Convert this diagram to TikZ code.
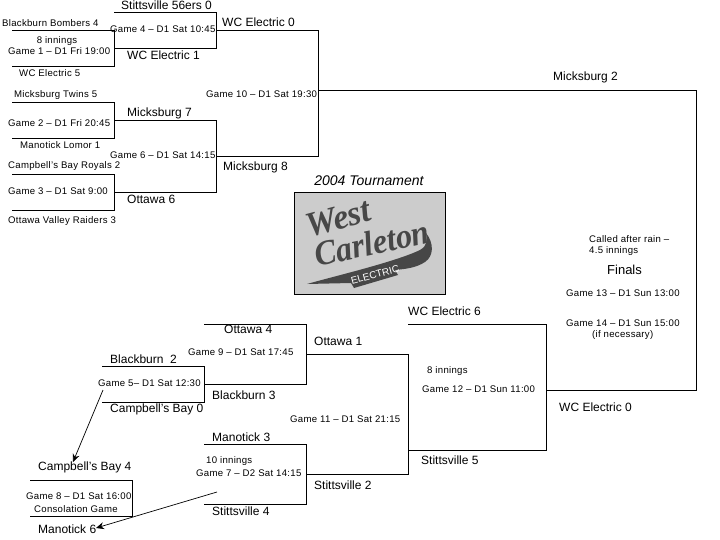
\documentclass[tikz,border=0pt]{standalone}
\usepackage{fontspec}
\setmainfont{Liberation Sans}
\newfontfamily\logofont{Liberation Serif}
\usetikzlibrary{arrows.meta, positioning}
\tikzset{
  bigteam/.style={anchor=west,inner sep=0pt,font=\fontsize{12}{12}\selectfont},
  smallteam/.style={anchor=west,inner sep=0pt,font=\fontsize{9.6}{10}\selectfont\addfontfeature{LetterSpace=3}},
  gamelbl/.style={smallteam},
  bracket/.style={line width=0.9pt},
  moved/.style={-{Stealth[length=8pt,width=7pt]},line width=0.7pt},
  logotext/.style={font=\logofont\bfseries\itshape\fontsize{35}{35}\selectfont,text=black!72,inner sep=0pt}
}
\begin{document}
\begin{tikzpicture}[x=1pt,y=-1pt]
\useasboundingbox (0,0) rectangle (720,540);
% upper half of the draw
\draw [bracket](12,30) -- (114,30) -- (114,66) -- (12,66);
\draw [bracket](12,102) -- (114,102) -- (114,138) -- (12,138);
\draw [bracket](12,174) -- (114,174) -- (114,210) -- (12,210);
\draw [bracket](114,12) -- (216,12) -- (216,48) -- (114,48);
\draw [bracket](114,120) -- (216,120) -- (216,192) -- (114,192);
\draw [bracket](216,30) -- (318,30) -- (318,156) -- (216,156);
% finals
\draw [bracket](318,90) -- (696,90) -- (696,390) -- (546,390);
\draw [bracket](408,324) -- (546,324) -- (546,450) -- (408,450);
% lower half of the draw
\draw [bracket](102,366) -- (204,366) -- (204,402) -- (102,402);
\draw [bracket](204,324) -- (306,324) -- (306,384) -- (204,384);
\draw [bracket](204,444) -- (306,444) -- (306,504) -- (204,504);
\draw [bracket](306,354) -- (408,354) -- (408,474) -- (306,474);
\draw [bracket](30,480) -- (132,480) -- (132,516) -- (30,516);

\node[smallteam] (bombers) at (2,23) {Blackburn Bombers 4};
\node[smallteam,anchor=center] (inningsA) at (57,41) {8 innings};
\node[gamelbl] (gameA) at (8,51) {Game 1 – D1 Fri 19:00};
\node[smallteam] (electricE) at (19,73) {WC Electric 5};
\node[smallteam] (twins) at (14,95) {Micksburg Twins 5};
\node[gamelbl] (gameB) at (8,123) {Game 2 – D1 Fri 20:45};
\node[smallteam] (lomor) at (20,145) {Manotick Lomor 1};
\node[smallteam] (royals) at (8,166) {Campbell's Bay Royals 2};
\node[gamelbl] (gameC) at (8,191) {Game 3 – D1 Sat 9:00};
\node[smallteam] (raiders) at (8,221) {Ottawa Valley Raiders 3};

\node[bigteam] (fiftysix) at (121,5) {Stittsville 56ers 0};
\node[gamelbl] (gameD) at (110,29) {Game 4 – D1 Sat 10:45};
\node[bigteam] (electricA) at (127,55) {WC Electric 1};
\node[bigteam] (electricB) at (222,22) {WC Electric 0};
\node[bigteam] (micksA) at (127,113) {Micksburg 7};
\node[gamelbl] (gameF) at (110,155) {Game 6 – D1 Sat 14:15};
\node[bigteam] (ottawaA) at (127,199) {Ottawa 6};
\node[gamelbl] (gameJ) at (206,94) {Game 10 – D1 Sat 19:30};
\node[bigteam] (micksB) at (223,167) {Micksburg 8};
\node[bigteam] (micksC) at (553,77) {Micksburg 2};

% logo
\node[font=\itshape\fontsize{14}{14}\selectfont,inner sep=0pt] (title) at (369,181) {2004 Tournament};
\draw[fill=black!20,line width=0.7pt] (294,192) rectangle (445,294);
\fill[black!72] (307,284) .. controls (335,276) and (395,262) .. (420,250)
  .. controls (427,246) and (428,240) .. (426,233)
  .. controls (434,243) and (434,256) .. (425,262)
  .. controls (416,268) and (405,269) .. (395,270)
  -- (398,275) -- (354,288) -- (351,283) -- cycle;
\node[logotext,rotate=15,xscale=0.98] (west) at (338,218) {West};
\node[logotext,rotate=12,xscale=0.92] (carleton) at (372,243) {Carleton};
\node[text=white,rotate=15,inner sep=0pt,font=\fontsize{10}{10}\selectfont] (electric) at (375,275) {ELECTRIC};

\node[smallteam] (called) at (589,239) {Called after rain –};
\node[smallteam] (rainin) at (589,251) {4.5 innings};
\node[bigteam,font=\fontsize{13}{13}\selectfont] (finals) at (607,270) {Finals};
\node[gamelbl] (gameM) at (566,293) {Game 13 – D1 Sun 13:00};
\node[gamelbl] (gameN) at (566,323) {Game 14 – D1 Sun 15:00};
\node[smallteam] (ifnec) at (592,335) {(if necessary)};

\node[bigteam] (electricC) at (408,311) {WC Electric 6};
\node[smallteam] (inningsB) at (427,371) {8 innings};
\node[gamelbl] (gameL) at (422,389) {Game 12 – D1 Sun 11:00};
\node[bigteam] (electricD) at (559,407) {WC Electric 0};
\node[bigteam] (stittsA) at (421,460) {Stittsville 5};

\node[bigteam] (ottawaB) at (224,329) {Ottawa 4};
\node[gamelbl] (gameI) at (188,352) {Game 9 – D1 Sat 17:45};
\node[bigteam] (ottawaC) at (314,341) {Ottawa 1};
\node[bigteam] (blackA) at (110,359) {Blackburn\ \ 2};
\node[gamelbl] (gameE) at (98,383) {Game 5– D1 Sat 12:30};
\node[bigteam] (blackB) at (212,395) {Blackburn 3};
\node[bigteam] (campA) at (110,409) {Campbell's Bay 0};
\node[gamelbl] (gameK) at (290,419) {Game 11 – D1 Sat 21:15};
\node[bigteam] (manoA) at (212,437) {Manotick 3};
\node[smallteam] (inningsC) at (206,461) {10 innings};
\node[gamelbl] (gameG) at (196,473) {Game 7 – D2 Sat 14:15};
\node[bigteam] (stittsB) at (314,485) {Stittsville 2};
\node[bigteam] (stittsC) at (212,511) {Stittsville 4};

\node[bigteam] (campB) at (38,467) {Campbell's Bay 4};
\node[gamelbl] (gameH) at (26,496) {Game 8 – D1 Sat 16:00};
\node[smallteam] (consol) at (34,509) {Consolation Game};
\node[bigteam] (manoB) at (38,529) {Manotick 6};

\coordinate (loserE) at (103,390);
\coordinate (dropE) at (73,462);
\coordinate (loserG) at (217,492);
\coordinate (dropG) at (96,528);
\draw [moved](loserE) -- (dropE);
\draw [moved](loserG) -- (dropG);
\end{tikzpicture}
\end{document}
